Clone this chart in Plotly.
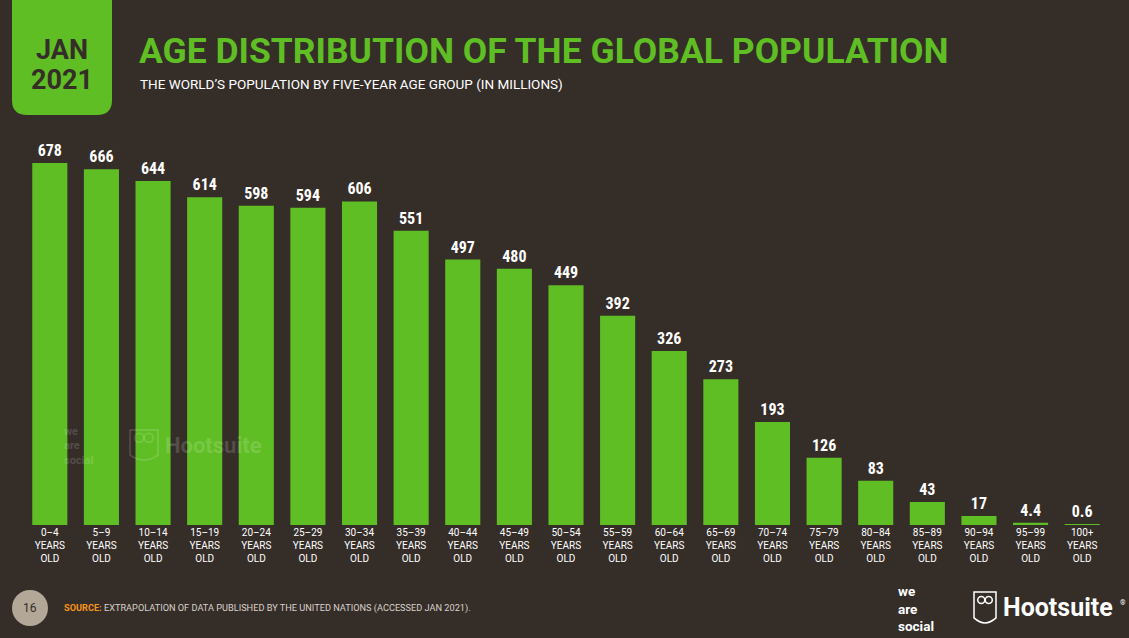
import plotly.graph_objects as go

categories = ["0–4", "5–9", "10–14", "15–19", "20–24", "25–29", "30–34", "35–39",
              "40–44", "45–49", "50–54", "55–59", "60–64", "65–69", "70–74", "75–79",
              "80–84", "85–89", "90–94", "95–99", "100+"]
values = [678, 666, 644, 614, 598, 594, 606, 551, 497, 480, 449, 392, 326, 273,
          193, 126, 83, 43, 17, 4.4, 0.6]
value_labels = ["678", "666", "644", "614", "598", "594", "606", "551", "497", "480",
                "449", "392", "326", "273", "193", "126", "83", "43", "17", "4.4", "0.6"]
tick_labels = [c + "<br>YEARS<br>OLD" for c in categories]

BG = "#352D28"
GREEN = "#5FBE24"
W, H = 1129, 638
ML, MR, MT, MB = 24, 21, 140, 113

fig = go.Figure()
fig.add_trace(go.Bar(
    x=categories, y=values, marker=dict(color=GREEN, line=dict(width=0)),
    text=value_labels, textposition="outside", cliponaxis=False,
    textfont=dict(color="white", size=16, family="Roboto Condensed, Liberation Sans Narrow, Roboto", weight="bold"),
    hoverinfo="skip",
))

fig.update_layout(
    width=W, height=H, paper_bgcolor=BG, plot_bgcolor=BG,
    margin=dict(l=ML, r=MR, t=MT, b=MB),
    bargap=0.32, showlegend=False,
    xaxis=dict(tickmode="array", tickvals=categories, ticktext=tick_labels,
               tickfont=dict(color="white", size=10, family="Roboto, Open Sans"),
               showgrid=False, zeroline=False, showline=False, ticks="", fixedrange=True),
    yaxis=dict(range=[0, 721], visible=False, showgrid=False, fixedrange=True),
    font=dict(family="Roboto, Open Sans"),
)

def px_x(x):
    return (x - ML) / (W - ML - MR)

def px_y(y):
    return 1 - (y - MT) / (H - MT - MB)

badge_path = "M {x0},{y0} L {x1},{y0} L {x1},{y2} Q {x1},{y3} {x2},{y3} L {x3},{y3} Q {x0},{y3} {x0},{y2} Z".format(
    x0=px_x(12), x1=px_x(112), x2=px_x(97), x3=px_x(27),
    y0=px_y(-2), y2=px_y(100), y3=px_y(115))
fig.add_shape(type="path", xref="paper", yref="paper", path=badge_path,
              fillcolor=GREEN, line=dict(width=0))

ann = []
def add_text(x, y, text, size, color, xanchor="left", family="Roboto, Open Sans", align="left"):
    ann.append(dict(x=px_x(x), y=px_y(y), xref="paper", yref="paper", text=text,
                    showarrow=False, xanchor=xanchor, yanchor="middle", align=align,
                    font=dict(size=size, color=color, family=family)))

def owl(x0, y0, w, h, color):
    fig.add_shape(type="path", xref="paper", yref="paper",
                  path="M {a},{b} L {c},{b} L {c},{d} Q {m},{e} {a},{d} Z".format(
                      a=px_x(x0), c=px_x(x0 + w), b=px_y(y0), d=px_y(y0 + h * 0.72),
                      m=px_x(x0 + w / 2), e=px_y(y0 + h)),
                  line=dict(color=color, width=1.5), fillcolor="rgba(0,0,0,0)")
    r = w * 0.16
    for cx in (x0 + w * 0.33, x0 + w * 0.67):
        fig.add_shape(type="circle", xref="paper", yref="paper",
                      x0=px_x(cx - r), x1=px_x(cx + r), y0=px_y(y0 + h * 0.22 - r),
                      y1=px_y(y0 + h * 0.22 + r), line=dict(color=color, width=1.5))

add_text(62, 50, "<b>JAN</b>", 27, BG, xanchor="center")
add_text(62, 80, "<b>2021</b>", 27, BG, xanchor="center")
add_text(137, 51, "<b>AGE DISTRIBUTION OF THE GLOBAL POPULATION</b>", 35.5, GREEN)
add_text(138, 84, "THE WORLD’S POPULATION BY FIVE-YEAR AGE GROUP (IN MILLIONS)", 13.5, "white")

# watermark
wm = "rgba(255,255,255,0.17)"
add_text(62, 446, "<b>we<br>are<br>social</b>", 11, wm)
owl(130, 430, 28, 35, wm)
add_text(163, 445, "<b>Hootsuite</b>", 22, wm)

# footer circle
fig.add_shape(type="circle", xref="paper", yref="paper",
              x0=px_x(12), x1=px_x(48), y0=px_y(590), y1=px_y(626),
              fillcolor="#B3A797", line=dict(width=0))
add_text(30, 608, "16", 12, BG, xanchor="center")
add_text(62, 608, "<b><span style='color:#F7941D'>SOURCE:</span></b> EXTRAPOLATION OF DATA PUBLISHED BY THE UNITED NATIONS (ACCESSED JAN 2021).",
         9.2, "#D8D2CC")

# logos
add_text(896, 608, "<b>we<br>are<br>social</b>", 13.5, "white")
owl(974, 592, 22, 36, "white")
add_text(1001, 607, "<b>Hootsuite</b>", 25, "white")
add_text(1118, 603, "®", 7, "white")

fig.update_layout(annotations=ann)
fig.write_html("out.html", config={"displayModeBar": False},
               post_script="document.body.style.margin='0';document.body.style.background='%s';" % BG)
